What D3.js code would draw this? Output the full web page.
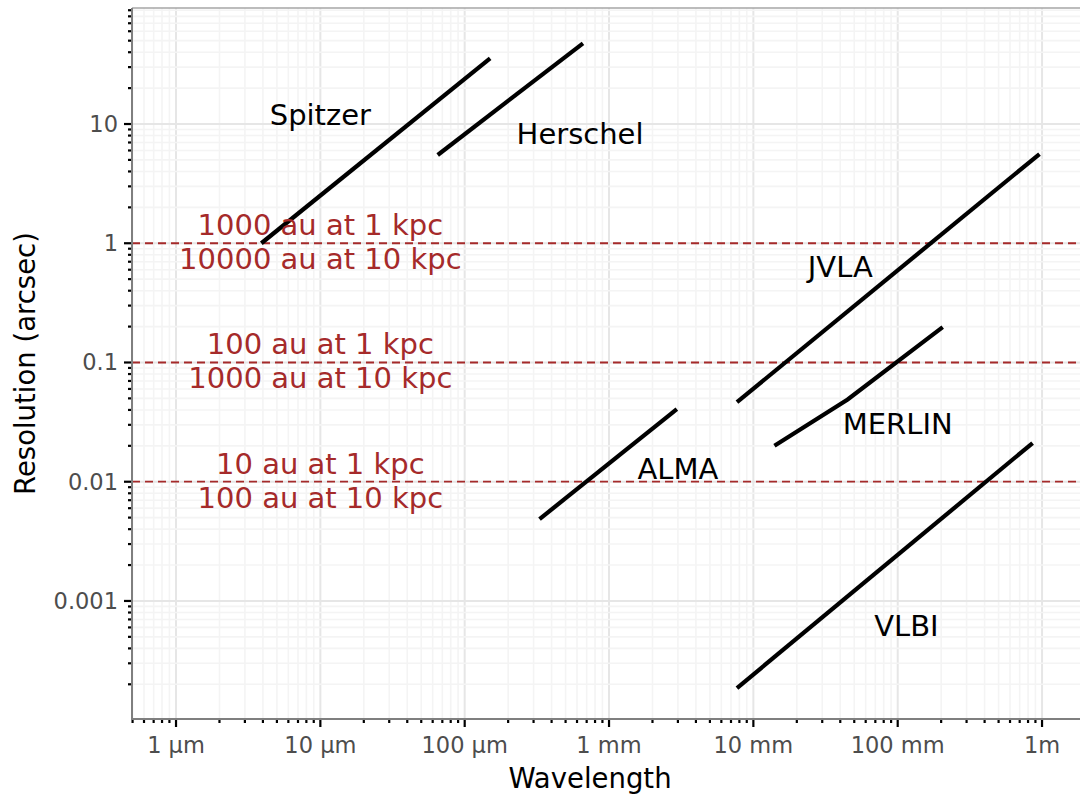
<!DOCTYPE html>
<html>
<head>
<meta charset="utf-8">
<script src="https://cdn.jsdelivr.net/npm/d3@7"></script>
<style>
  body { margin: 0; background: #fff; }
  svg { font-family: "DejaVu Sans", sans-serif; display: block; }
</style>
</head>
<body>
<svg width="1081" height="798"></svg>
<script>
// instrument coverage: wavelength (m) vs resolution (arcsec)
var instruments = ["Spitzer", "Herschel", "JVLA", "MERLIN", "ALMA", "VLBI"];
var wavelengths = [
  [3.9e-6, 1.5e-4],
  [6.5e-5, 6.6e-4],
  [7.7e-3, 0.96],
  [0.014, 0.045, 0.205],
  [3.3e-4, 2.95e-3],
  [7.7e-3, 0.86]
];
var resolutions = [
  [1.0, 35.5],
  [5.5, 47.5],
  [0.0465, 5.6],
  [0.02, 0.049, 0.198],
  [0.00486, 0.0406],
  [0.000186, 0.0211]
];
var labelX = [1e-5, 6.3e-4, 0.04, 0.1, 0.003, 0.115];
var labelY = [12, 8.2, 0.63, 0.0304, 0.0128, 0.00062];

// reference lines
var refLevels = [1, 0.1, 0.01];
var refTop = ["1000 au at 1 kpc", "100 au at 1 kpc", "10 au at 1 kpc"];
var refBottom = ["10000 au at 10 kpc", "1000 au at 10 kpc", "100 au at 10 kpc"];

var xTicks = [1e-6, 1e-5, 1e-4, 1e-3, 1e-2, 1e-1, 1];
var xTickLabels = ["1 µm", "10 µm", "100 µm", "1 mm", "10 mm", "100 mm", "1m"];
var yTicks = [10, 1, 0.1, 0.01, 0.001];
var yTickLabels = ["10", "1", "0.1", "0.01", "0.001"];

var svg = d3.select("svg"),
    pLeft = 132, pRight = 1080, pTop = 8, pBottom = 719;

var x = d3.scaleLog()
    .domain([Math.pow(10, -6.305), Math.pow(10, 0.263)])
    .range([pLeft, pRight]);
var y = d3.scaleLog()
    .domain([Math.pow(10, -3.99), Math.pow(10, 1.973)])
    .range([pBottom, pTop]);

function minors(scale) {
  var d = scale.domain(), out = [];
  var lo = Math.floor(Math.log10(d[0])), hi = Math.ceil(Math.log10(d[1]));
  for (var k = lo; k <= hi; k++) {
    for (var m = 2; m <= 9; m++) {
      var v = m * Math.pow(10, k);
      if (v >= d[0] && v <= d[1]) out.push(v);
    }
  }
  return out;
}
var xMinor = minors(x), yMinor = minors(y);

var grid = svg.append("g");
// x minor, x major, y minor, y major
grid.selectAll(".xmin").data(xMinor).enter().append("line")
    .attr("x1", x).attr("x2", x).attr("y1", pTop).attr("y2", pBottom)
    .attr("stroke", "#f4f4f4").attr("stroke-width", 1.6);
grid.selectAll(".xmaj").data(xTicks).enter().append("line")
    .attr("x1", x).attr("x2", x).attr("y1", pTop).attr("y2", pBottom)
    .attr("stroke", "#e6e6e6").attr("stroke-width", 2);
grid.selectAll(".ymin").data(yMinor).enter().append("line")
    .attr("y1", y).attr("y2", y).attr("x1", pLeft).attr("x2", pRight)
    .attr("stroke", "#f4f4f4").attr("stroke-width", 1.6);
grid.selectAll(".ymaj").data(yTicks).enter().append("line")
    .attr("y1", y).attr("y2", y).attr("x1", pLeft).attr("x2", pRight)
    .attr("stroke", "#e6e6e6").attr("stroke-width", 2);

// reference dashed lines
svg.selectAll(".ref").data(refLevels).enter().append("line")
    .attr("x1", pLeft).attr("x2", pRight)
    .attr("y1", y).attr("y2", y)
    .attr("stroke", "#a52a2a").attr("stroke-width", 1.8)
    .attr("stroke-dasharray", "8,5");

// instrument lines
var line = d3.line()
    .x(function(d) { return x(d[0]); })
    .y(function(d) { return y(d[1]); });

svg.selectAll(".inst").data(instruments).enter().append("path")
    .attr("d", function(d, i) {
      return line(d3.zip(wavelengths[i], resolutions[i]));
    })
    .attr("fill", "none").attr("stroke", "#000").attr("stroke-width", 4.2);

svg.selectAll(".lab").data(instruments).enter().append("text")
    .attr("x", function(d, i) { return x(labelX[i]); })
    .attr("y", function(d, i) { return y(labelY[i]); })
    .attr("dy", "0.35em")
    .attr("text-anchor", "middle")
    .style("font-size", "29px")
    .attr("fill", "#000")
    .text(function(d) { return d; });

// reference labels
var refG = svg.selectAll(".reflab").data(refLevels).enter().append("g");
refG.append("text")
    .attr("x", x(1e-5)).attr("y", function(d) { return y(d) - 8; })
    .attr("text-anchor", "middle").style("font-size", "29px")
    .attr("fill", "#a52a2a")
    .text(function(d, i) { return refTop[i]; });
refG.append("text")
    .attr("x", x(1e-5)).attr("y", function(d) { return y(d) + 26; })
    .attr("text-anchor", "middle").style("font-size", "29px")
    .attr("fill", "#a52a2a")
    .text(function(d, i) { return refBottom[i]; });

// panel border and axis lines
svg.append("line").attr("x1", pLeft).attr("x2", pRight).attr("y1", pTop).attr("y2", pTop)
    .attr("stroke", "#a6a6a6").attr("stroke-width", 1.6);
svg.append("line").attr("x1", pLeft).attr("x2", pLeft).attr("y1", pTop).attr("y2", pBottom + 1)
    .attr("stroke", "#7f7f7f").attr("stroke-width", 2);
svg.append("line").attr("x1", pLeft - 1).attr("x2", pRight).attr("y1", pBottom).attr("y2", pBottom)
    .attr("stroke", "#7f7f7f").attr("stroke-width", 2);

// ticks
var xAxis = svg.append("g").attr("transform", "translate(0," + (pBottom + 1) + ")");
xAxis.selectAll(".mt").data(xMinor).enter().append("line")
    .attr("x1", x).attr("x2", x).attr("y1", 0).attr("y2", 3)
    .attr("stroke", "#000").attr("stroke-width", 2.2);
xAxis.selectAll(".Mt").data(xTicks).enter().append("line")
    .attr("x1", x).attr("x2", x).attr("y1", 0).attr("y2", 7)
    .attr("stroke", "#000").attr("stroke-width", 2.2);
xAxis.selectAll(".tl").data(xTicks).enter().append("text")
    .attr("x", x).attr("y", 33)
    .attr("text-anchor", "middle").style("font-size", "22.5px")
    .attr("fill", "#4d4d4d")
    .text(function(d, i) { return xTickLabels[i]; });

var yAxis = svg.append("g").attr("transform", "translate(" + (pLeft - 1) + ",0)");
yAxis.selectAll(".mt").data(yMinor).enter().append("line")
    .attr("y1", y).attr("y2", y).attr("x1", 0).attr("x2", -3)
    .attr("stroke", "#000").attr("stroke-width", 2.2);
yAxis.selectAll(".Mt").data(yTicks).enter().append("line")
    .attr("y1", y).attr("y2", y).attr("x1", 0).attr("x2", -7)
    .attr("stroke", "#000").attr("stroke-width", 2.2);
yAxis.selectAll(".tl").data(yTicks).enter().append("text")
    .attr("x", -13).attr("y", y).attr("dy", "0.35em")
    .attr("text-anchor", "end").style("font-size", "22.5px")
    .attr("fill", "#4d4d4d")
    .text(function(d, i) { return yTickLabels[i]; });

// axis titles
svg.append("text")
    .attr("x", 590).attr("y", 788)
    .attr("text-anchor", "middle").style("font-size", "27.5px")
    .attr("fill", "#000").text("Wavelength");
svg.append("text")
    .attr("transform", "translate(35," + ((pTop + pBottom) / 2) + ") rotate(-90)")
    .attr("text-anchor", "middle").style("font-size", "27.5px")
    .attr("fill", "#000").text("Resolution (arcsec)");
</script>
</body>
</html>
